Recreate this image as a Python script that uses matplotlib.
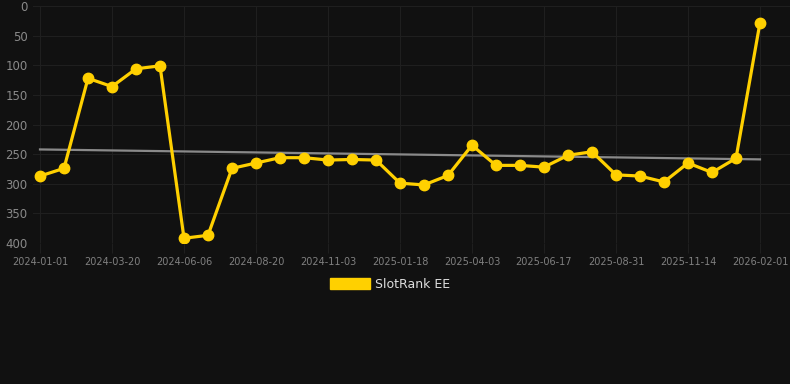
import numpy as np
import matplotlib
matplotlib.use("Agg")
import matplotlib.pyplot as plt
from matplotlib.patches import Patch

# Rank values (lower is better, axis inverted)
ranks = [287, 274, 122, 136, 106, 101, 392, 387, 274, 265,
         256, 256, 260, 259, 260, 299, 302, 286, 235, 269,
         269, 272, 252, 246, 285, 287, 297, 265, 281, 257, 28]
tick_labels = ["2024-01-01", "2024-03-20", "2024-06-06", "2024-08-20",
               "2024-11-03", "2025-01-18", "2025-04-03", "2025-06-17",
               "2025-08-31", "2025-11-14", "2026-02-01"]
series_name = "SlotRank EE"

bg = "#111111"
grid_col = "#1f1f1f"
yellow = "#FFD000"

x = np.arange(len(ranks))
y = np.array(ranks)

fig = plt.figure(figsize=(7.9, 3.84), dpi=100, facecolor=bg)
ax = fig.add_axes([33 / 790, 1 - 243 / 384, 757 / 790, 237 / 384])
ax.set_facecolor(bg)

# Trend line (linear fit)
k, b = np.polyfit(x, y, 1)
ax.plot(x, k * x + b, color="#8a8a8a", lw=1.6, zorder=2)

ax.plot(x, y, color=yellow, lw=2.3, marker="o", ms=7.5, zorder=3)

ax.set_ylim(400, 0)
ax.set_xlim(-7 / 24, 31.25)
ax.set_yticks(range(0, 401, 50))
ax.set_xticks(x[::3])
ax.set_xticklabels(tick_labels)

ax.grid(True, color=grid_col, lw=0.8)
ax.set_axisbelow(True)
for s in ax.spines.values():
    s.set_visible(False)
ax.tick_params(axis="y", length=0, pad=4, labelsize=8.5, labelcolor="#8a8a8a")
ax.tick_params(axis="x", length=7, color=grid_col, pad=3, labelsize=7, labelcolor="#808080")

fig.legend(handles=[Patch(color=yellow, label=series_name)], loc="center",
           bbox_to_anchor=(390 / 790, 1 - 284 / 384), frameon=False,
           handlelength=3.2, handleheight=0.95, handletextpad=0.45,
           labelcolor="#dddddd", fontsize=9)

fig.savefig("out.png", dpi=100, facecolor=bg)
